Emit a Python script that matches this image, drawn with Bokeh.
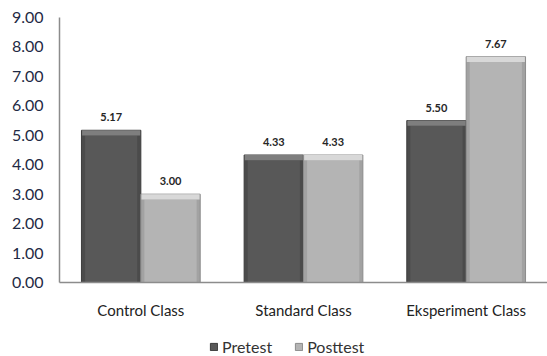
from bokeh.plotting import figure
from bokeh.layouts import column
from bokeh.models import (ColumnDataSource, FactorRange, Range1d, FixedTicker,
                          NumeralTickFormatter, Legend, LegendItem)
from bokeh.transform import dodge
from bokeh.core.properties import value
from bokeh.embed import file_html
from bokeh.resources import INLINE

categories = ["Control Class", "Standard Class", "Eksperiment Class"]
pretest = [5.17, 4.33, 5.50]
posttest = [3.00, 4.33, 7.67]
series_names = ["Pretest", "Posttest"]
y_ticks = [0, 1, 2, 3, 4, 5, 6, 7, 8, 9]

BAR_W = 0.365
OFF = BAR_W / 2
BEVEL = 0.18   # height of the lighter top bevel, in data units
INSET = 0.022  # side bevel width, in category units

FONT = "Lato"

# (outline, side bevel, face, top bevel)
palettes = [
    ("#3c3c3c", "#4b4b4b", "#585858", "#7e7e7e"),
    ("#8c8c8c", "#a2a2a2", "#b4b4b4", "#d8d8d8"),
]

p = figure(x_range=FactorRange(*categories, range_padding=0), y_range=Range1d(0, 9),
           width=547, height=322, output_backend="svg", toolbar_location=None,
           min_border_left=59, min_border_right=0, min_border_top=17, min_border_bottom=40)
p.outline_line_color = None
p.xgrid.grid_line_color = None
p.ygrid.grid_line_color = None

for vals, off, (edge, side, face, top) in zip([pretest, posttest], [-OFF, OFF], palettes):
    src = ColumnDataSource(dict(
        cat=categories,
        val=vals,
        bevel_bottom=[v - BEVEL for v in vals],
        label=["%.2f" % v for v in vals],
    ))
    x = dodge("cat", off, range=p.x_range)
    # whole bar, with its side bevels
    p.vbar(x=x, top="val", bottom=0, width=BAR_W, source=src,
           fill_color=side, line_color=edge, line_width=1)
    # flat face
    p.vbar(x=x, top="bevel_bottom", bottom=0.02, width=BAR_W - 2 * INSET, source=src,
           fill_color=face, line_color=None)
    # lighter top bevel
    p.vbar(x=x, top="val", bottom="bevel_bottom", width=BAR_W - 0.008, source=src,
           fill_color=top, line_color=None)
    p.text(x=x, y="val", text="label", source=src, y_offset=-13,
           text_align="center", text_baseline="middle",
           text_font=value(FONT), text_font_size="11px", text_font_style="bold",
           text_color="#262626")

p.yaxis.ticker = FixedTicker(ticks=y_ticks)
p.yaxis.formatter = NumeralTickFormatter(format="0.00")
p.yaxis.major_tick_out = 0
p.yaxis.major_tick_in = 0
p.yaxis.minor_tick_out = 0
p.yaxis.minor_tick_in = 0
p.yaxis.axis_line_color = "#8c8c8c"
p.yaxis.axis_line_width = 1.5
p.yaxis.major_label_standoff = 16
p.yaxis.major_label_text_font = FONT
p.yaxis.major_label_text_font_size = "16px"
p.yaxis.major_label_text_color = "#1f2a44"

p.xaxis.major_tick_out = 0
p.xaxis.major_tick_in = 0
p.xaxis.axis_line_color = "#8c8c8c"
p.xaxis.axis_line_width = 1.5
p.xaxis.major_label_standoff = 18
p.xaxis.major_label_text_font = FONT
p.xaxis.major_label_text_font_size = "15px"
p.xaxis.major_label_text_color = "#222222"

# legend strip under the chart; its swatch bars sit outside the visible range
lg = figure(width=547, height=34, output_backend="svg", toolbar_location=None,
            x_range=Range1d(0, 1), y_range=Range1d(0, 1),
            x_axis_location=None, y_axis_location=None, min_border=0,
            min_border_left=0, min_border_right=0, min_border_top=0, min_border_bottom=0)
lg.grid.visible = False
lg.outline_line_color = None
leg_renderers = []
for (edge, side, face, top) in palettes:
    leg_renderers.append(lg.vbar(x=[5], top=[5], bottom=[4], width=0.1,
                                 fill_color=face, line_color=edge))
legend = Legend(items=[LegendItem(label=n, renderers=[r]) for n, r in zip(series_names, leg_renderers)],
                orientation="horizontal", location=(150, 0),
                glyph_width=9, glyph_height=9, spacing=22, label_standoff=4,
                padding=0, margin=0, border_line_color=None, background_fill_alpha=0,
                label_text_font=FONT, label_text_font_size="16px",
                label_text_color="#333333", label_height=18)
lg.add_layout(legend)

open("out.html", "w").write(file_html(column(p, lg, spacing=0), INLINE))
